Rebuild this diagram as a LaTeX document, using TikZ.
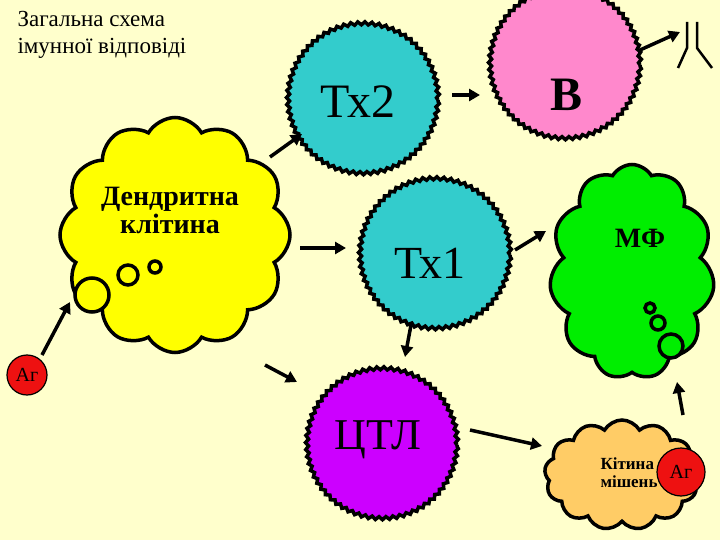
\documentclass[tikz,border=0pt]{standalone}
\usepackage{fontspec}
\setmainfont{Liberation Serif}
\usetikzlibrary{shapes.symbols,decorations.pathmorphing,arrows.meta}
\definecolor{bg}{HTML}{FFFFCC}
\definecolor{cyanc}{HTML}{33CCCC}
\definecolor{pinkc}{HTML}{FF88CC}
\definecolor{purpc}{HTML}{CC00FF}
\definecolor{greenc}{HTML}{00EE00}
\definecolor{orangec}{HTML}{FFCC66}
\definecolor{yellowc}{HTML}{FFFF00}
\definecolor{redc}{HTML}{EE1111}
\tikzset{
 wavy/.style={circle,draw=black,line width=3.5pt,minimum size=150pt,decorate,decoration={snake,segment length=7pt,amplitude=1.5pt}},
 puffy/.style={cloud,draw=black,line width=3.5pt,cloud puff arc=120,aspect=1},
 arr/.style={line width=3.5pt,-{Triangle[length=11pt,width=12pt]}},
 ring/.style={circle,draw=black,line width=3.5pt,inner sep=0pt},
 ag/.style={circle,fill=redc,draw=black,line width=1.2pt,font=\fontsize{20}{20}\selectfont,inner sep=0pt}
}
\begin{document}
\begin{tikzpicture}[x=1pt,y=-1pt]
\fill[bg] (0,0) rectangle (720,540);
\useasboundingbox (0,0) rectangle (720,540);
\node[anchor=north west,align=left,font=\fontsize{23}{27}\selectfont] (title) at (14,8) {Загальна схема\\імунної відповіді};
\node[puffy,fill=yellowc,cloud puffs=12,minimum width=230pt,minimum height=235pt] (dc) at (175,235) {};
\node[font=\bfseries\fontsize{28}{28}\selectfont,align=center] (dct) at (170,210) {Дендритна\\клітина};
\node[ring,fill=yellowc,minimum size=34pt] (r1) at (92,295) {};
\node[ring,fill=yellowc,minimum size=20pt] (r2) at (128,275) {};
\node[ring,fill=yellowc,minimum size=12pt] (r3) at (155,267) {};
\node[wavy,fill=cyanc] (tx2) at (363,100) {};
\node[font=\fontsize{48}{48}\selectfont] at (358,102) {Тх2};
\node[wavy,fill=pinkc] (b) at (565,65) {};
\node[font=\bfseries\fontsize{48}{48}\selectfont] at (567,95) {B};
\node[wavy,fill=cyanc] (tx1) at (435,255) {};
\node[font=\fontsize{46}{46}\selectfont] at (430,263) {Тх1};
\node[wavy,fill=purpc] (ctl) at (382,445) {};
\node[font=\fontsize{44}{44}\selectfont] at (378,440) {ЦТЛ};
\node[puffy,fill=greenc,cloud puffs=11,minimum width=165pt,minimum height=215pt] (mf) at (632,272) {};
\node[font=\bfseries\fontsize{28}{28}\selectfont] at (640,238) {МФ};
\node[ring,fill=greenc,minimum size=10pt] (m1) at (650,308) {};
\node[ring,fill=greenc,minimum size=14pt] (m2) at (658,323) {};
\node[ring,fill=greenc,minimum size=24pt] (m3) at (671,346) {};
\node[puffy,fill=orangec,cloud puffs=13,minimum width=155pt,minimum height=110pt] (tc) at (622,475) {};
\node[font=\bfseries\fontsize{17}{18}\selectfont,align=left,anchor=west] at (597,473) {Кітина\\мішень};
\node[ag,minimum size=48pt] (ag2) at (681,472) {Аг};
\node[ag,minimum size=40pt] (ag1) at (27,375) {Аг};
% antibody
\coordinate (abL) at (687,22); \coordinate (abR) at (697,22);
\draw[line width=2.5pt] (abL) -- (687,48) -- (678,68);
\draw[line width=2.5pt] (abR) -- (697,48) -- (712,68);
% arrows
\coordinate (a1s) at (42,355); \coordinate (a1e) at (70,302);
\coordinate (a2s) at (270,157); \coordinate (a2e) at (302,134);
\coordinate (a3s) at (300,248); \coordinate (a3e) at (346,248);
\coordinate (a4s) at (265,365); \coordinate (a4e) at (297,382);
\coordinate (a5s) at (452,95); \coordinate (a5e) at (480,95);
\coordinate (a6s) at (640,50); \coordinate (a6e) at (680,32);
\coordinate (a7s) at (515,250); \coordinate (a7e) at (546,231);
\coordinate (a8s) at (411,325); \coordinate (a8e) at (405,357);
\coordinate (a9s) at (470,430); \coordinate (a9e) at (542,446);
\coordinate (a10s) at (683,415); \coordinate (a10e) at (677,382);
\foreach \i in {1,...,10} {\draw[arr] (a\i s) -- (a\i e);}
\end{tikzpicture}
\end{document}
